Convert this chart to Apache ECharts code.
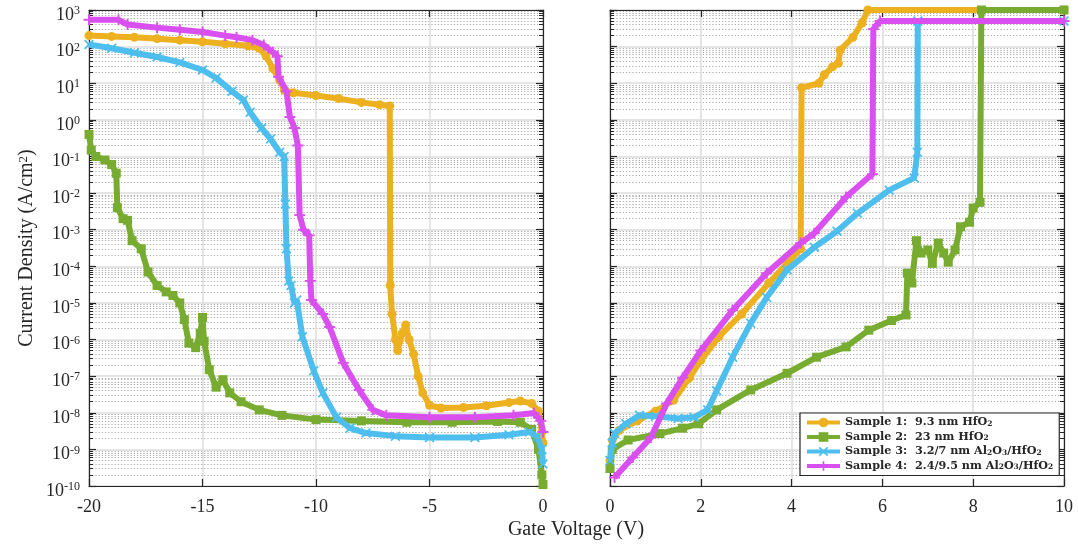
<!DOCTYPE html>
<html>
<head>
<meta charset="utf-8">
<script src="https://cdn.jsdelivr.net/npm/echarts@6/dist/echarts.min.js"></script>
<style>
  html, body { margin: 0; padding: 0; background: #ffffff; }
  #chart { width: 1078px; height: 550px; }
</style>
</head>
<body>
<div id="chart"></div>
<script>
// Gate leakage J–V sweeps for four gate stacks: negative bias (left) and positive bias (right).
// Each point: [gate voltage (V), current density (A/cm^2)].

const sampleNames = [
  'Sample 1: 9.3 nm HfO2',
  'Sample 2: 23 nm HfO2',
  'Sample 3: 3.2/7 nm Al2O3/HfO2',
  'Sample 4: 2.4/9.5 nm Al2O3/HfO2'
];
const legendLabels = [
  'Sample 1:  9.3 nm HfO{sub|2}',
  'Sample 2:  23 nm HfO{sub|2}',
  'Sample 3:  3.2/7 nm Al{sub|2}O{sub|3}/HfO{sub|2}',
  'Sample 4:  2.4/9.5 nm Al{sub|2}O{sub|3}/HfO{sub|2}'
];
const sampleColors = ['#EDB120', '#77AC30', '#4DBEEE', '#D94FF0'];

const xTicksNeg = { min: -20, max: 0, step: 5 };
const xTicksPos = { min: 0, max: 10, step: 2 };
const yRange = { min: 1e-10, max: 1e3 };

// Sample 1
const s1Neg = [
  [-20, 200], [-19, 190], [-18, 180], [-17, 165], [-16, 150], [-15, 135], [-14, 120],
  [-13, 105], [-12.5, 90], [-12.2, 55], [-11.9, 25], [-11.6, 12], [-11.4, 6.5],
  [-11, 5.5], [-10, 4.6], [-9, 3.8], [-8, 3.0], [-7.2, 2.6], [-6.75, 2.4],
  [-6.73, 3e-5], [-6.65, 5e-6], [-6.5, 1e-6], [-6.4, 5e-7], [-6.2, 1.5e-6],
  [-6.05, 2.5e-6], [-5.9, 1e-6], [-5.7, 4e-7], [-5.5, 1e-7], [-5.3, 3.5e-8],
  [-5.0, 1.6e-8], [-4.5, 1.35e-8], [-3.5, 1.4e-8], [-2.5, 1.55e-8], [-1.5, 1.9e-8],
  [-1.0, 2.1e-8], [-0.5, 1.8e-8], [-0.2, 1.1e-8], [-0.05, 3e-9], [0, 1.5e-9]
];
const s1Pos = [
  [0, 5e-10], [0.05, 1.8e-9], [0.2, 3.3e-9], [0.6, 6e-9], [1.0, 1.1e-8], [1.4, 2.2e-8],
  [1.75, 9e-8], [2.0, 2.7e-7], [2.4, 1.2e-6], [2.9, 5e-6], [3.5, 3.5e-5], [3.9, 1.2e-4],
  [4.2, 3e-4], [4.22, 7.5], [4.6, 10], [4.72, 17], [4.9, 28], [5.03, 35], [5.07, 80],
  [5.35, 180], [5.55, 440], [5.68, 1000], [10, 1000]
];

// Sample 2
const s2Neg = [
  [-20, 0.4], [-19.9, 0.15], [-19.7, 0.1], [-19.3, 0.08], [-19.0, 0.06], [-18.8, 0.035],
  [-18.75, 4e-3], [-18.5, 2e-3], [-18.3, 1.8e-3], [-18.1, 5e-4], [-17.7, 3e-4],
  [-17.4, 7e-5], [-17.0, 3e-5], [-16.6, 2e-5], [-16.3, 1.6e-5], [-16.0, 1e-5],
  [-15.8, 3.5e-6], [-15.6, 8e-7], [-15.3, 6e-7], [-15.1, 1.5e-6], [-15.0, 4e-6],
  [-14.93, 9e-7], [-14.7, 1.5e-7], [-14.4, 5e-8], [-14.1, 8e-8], [-13.8, 3.5e-8],
  [-13.3, 2e-8], [-12.5, 1.2e-8], [-11.5, 8.5e-9], [-10, 6.5e-9], [-8, 6e-9],
  [-6, 5.5e-9], [-4, 5.5e-9], [-2, 5.8e-9], [-1, 5.5e-9], [-0.5, 3.5e-9],
  [-0.2, 1e-9], [-0.05, 2e-10], [0, 1.1e-10]
];
const s2Pos = [
  [0, 3e-10], [0.05, 1e-9], [0.4, 1.8e-9], [1.1, 2.7e-9], [1.6, 3.8e-9], [1.95, 5e-9],
  [2.35, 1.2e-8], [3.1, 4.2e-8], [3.9, 1.2e-7], [4.55, 3.3e-7], [5.2, 6.3e-7],
  [5.7, 1.8e-6], [6.2, 3.3e-6], [6.52, 4.7e-6], [6.55, 6.5e-5], [6.65, 3.5e-5],
  [6.75, 5e-4], [6.85, 2.3e-4], [7.0, 2.8e-4], [7.1, 1.2e-4], [7.23, 4.3e-4],
  [7.35, 2.3e-4], [7.45, 1.3e-4], [7.6, 2.8e-4], [7.72, 1.2e-3], [7.92, 1.6e-3],
  [8.0, 3.9e-3], [8.15, 5.6e-3], [8.18, 1000], [10, 1000]
];

// Sample 3
const s3Neg = [
  [-20, 115], [-19, 90], [-18, 68], [-17, 52], [-16, 37], [-15, 23], [-14.4, 14],
  [-13.7, 6], [-13.2, 3.5], [-12.9, 1.6], [-12.4, 0.6], [-12, 0.3], [-11.6, 0.13],
  [-11.4, 0.1], [-11.35, 5e-3], [-11.3, 3e-4], [-11.2, 4e-5], [-11.1, 3e-5],
  [-10.95, 1e-5], [-10.85, 1.2e-5], [-10.6, 1.2e-6], [-10.1, 1.4e-7], [-9.7, 3.5e-8],
  [-9.1, 7.5e-9], [-8.5, 3.8e-9], [-7.8, 2.8e-9], [-6.5, 2.3e-9], [-5, 2.1e-9],
  [-3, 2.1e-9], [-1.5, 2.5e-9], [-0.6, 3e-9], [-0.25, 2.2e-9], [-0.05, 1e-9], [0, 4e-10]
];
const s3Pos = [
  [0, 5e-10], [0.05, 1.5e-9], [0.1, 2.7e-9], [0.35, 5e-9], [0.65, 8.5e-9], [1.0, 8e-9],
  [1.5, 7e-9], [1.85, 7.5e-9], [2.15, 1.2e-8], [2.35, 4e-8], [2.7, 3.3e-7], [3.1, 2.8e-6],
  [3.45, 1.4e-5], [3.9, 8e-5], [4.5, 3.3e-4], [5.0, 9e-4], [5.45, 2.8e-3], [6.15, 1.2e-2],
  [6.7, 2.6e-2], [6.77, 0.13], [6.78, 500], [10, 500]
];

// Sample 4
const s4Neg = [
  [-20, 540], [-18.7, 540], [-18.3, 400], [-17, 330], [-16, 290], [-15, 250], [-14, 200],
  [-13.5, 180], [-12.8, 150], [-12.3, 110], [-11.9, 70], [-11.7, 55], [-11.65, 15],
  [-11.3, 6], [-11.15, 1.2], [-10.95, 0.6], [-10.8, 0.2], [-10.72, 2.5e-3],
  [-10.55, 1e-3], [-10.3, 7e-4], [-10.25, 4e-5], [-10.2, 1.2e-5], [-9.7, 5e-6],
  [-9.4, 2.2e-6], [-8.8, 2.3e-7], [-8.1, 4.2e-8], [-7.5, 1.2e-8], [-6.9, 8.5e-9],
  [-5, 7.6e-9], [-3, 7.6e-9], [-1.3, 8.5e-9], [-0.4, 9.8e-9], [-0.1, 6e-9], [0, 3e-9]
];
const s4Pos = [
  [0.1, 1.7e-10], [0.5, 6e-10], [0.9, 2.1e-9], [1.25, 1.8e-8], [1.6, 9e-8], [2.0, 5e-7],
  [2.7, 6.3e-6], [3.45, 6.5e-5], [4.2, 4.3e-4], [4.5, 8e-4], [5.2, 7.8e-3],
  [5.78, 3.3e-2], [5.8, 300], [5.95, 500], [10, 500]
];

const negData = [s1Neg, s2Neg, s3Neg, s4Neg];
const posData = [s1Pos, s2Pos, s3Pos, s4Pos];

// Marker shapes: circle, square, cross (x), plus (+)
const markerShapes = [
  'circle',
  'rect',
  'path://M1,0L4,3L7,0L8,1L5,4L8,7L7,8L4,5L1,8L0,7L3,4L0,1Z',
  'path://M3.3,0H4.7V3.3H8V4.7H4.7V8H3.3V4.7H0V3.3H3.3Z'
];
const markerSizes = [9, 9, 10, 11];

const INK = '#262626';
const SERIF = 'Liberation Serif';

const chart = echarts.init(document.getElementById('chart'), null, { renderer: 'canvas' });

function xAxisDef(gridIndex, range, position, showLabels, showSplit) {
  return {
    type: 'value', gridIndex, position, min: range.min, max: range.max, interval: range.step,
    axisLine: { show: true, onZero: false, lineStyle: { color: INK, width: 1.2 } },
    axisTick: { show: true, inside: true, length: 7, lineStyle: { color: INK, width: 1.2 } },
    axisLabel: {
      show: showLabels, margin: 12, color: INK, fontFamily: SERIF, fontSize: 18
    },
    splitLine: { show: showSplit, lineStyle: { color: '#dcdcdc', width: 1.5 } }
  };
}

function yAxisDef(gridIndex, position, showLabels, showSplit, withName) {
  const ax = {
    type: 'log', logBase: 10, gridIndex, position,
    min: yRange.min, max: yRange.max, interval: 1,
    axisLine: { show: true, onZero: false, lineStyle: { color: INK, width: 1.2 } },
    axisTick: { show: true, inside: true, length: 7, lineStyle: { color: INK, width: 1.2 } },
    minorTick: { show: true, splitNumber: 9, length: 4, lineStyle: { color: INK, width: 1 } },
    axisLabel: {
      show: showLabels, margin: 9, padding: [10, 0, 0, 0],
      formatter: v => '{b|10}{s|' + Math.round(Math.log10(v)) + '}',
      rich: {
        b: { fontFamily: SERIF, fontSize: 18, color: INK, lineHeight: 20 },
        s: { fontFamily: SERIF, fontSize: 12, color: INK, verticalAlign: 'top', lineHeight: 12 }
      }
    },
    splitLine: { show: showSplit, lineStyle: { color: '#dcdcdc', width: 1.5 } },
    minorSplitLine: { show: showSplit, lineStyle: { color: '#aaaaaa', width: 1, type: [1.2, 2] } }
  };
  if (withName) {
    Object.assign(ax, {
      name: 'Current Density (A/cm{s|2})',
      nameLocation: 'middle', nameRotate: 90, nameGap: 52,
      nameTextStyle: {
        fontFamily: SERIF, fontSize: 20, color: INK,
        rich: { s: { fontFamily: SERIF, fontSize: 13, color: INK, verticalAlign: 'top', lineHeight: 13 } }
      }
    });
  }
  return ax;
}

const series = [];
sampleNames.forEach((name, i) => {
  [[negData[i], 0], [posData[i], 2]].forEach(([data, axisIdx]) => {
    series.push({
      name, type: 'line', data,
      xAxisIndex: axisIdx, yAxisIndex: axisIdx,
      symbol: markerShapes[i], symbolSize: markerSizes[i], showSymbol: true,
      clip: false, z: 2 + i,
      lineStyle: { color: sampleColors[i], width: 6 },
      itemStyle: { color: sampleColors[i] },
      emphasis: { disabled: true }
    });
  });
});

const option = {
  animation: false,
  backgroundColor: '#ffffff',
  grid: [
    { left: 89, top: 10, width: 454, height: 476 },
    { left: 610, top: 10, width: 454, height: 476 }
  ],
  xAxis: [
    xAxisDef(0, xTicksNeg, 'bottom', true, true),
    xAxisDef(0, xTicksNeg, 'top', false, false),
    xAxisDef(1, xTicksPos, 'bottom', true, true),
    xAxisDef(1, xTicksPos, 'top', false, false)
  ],
  yAxis: [
    yAxisDef(0, 'left', true, true, true),
    yAxisDef(0, 'right', false, false, false),
    yAxisDef(1, 'left', false, true, false),
    yAxisDef(1, 'right', false, false, false)
  ],
  legend: {
    data: sampleNames,
    orient: 'vertical', left: 800, top: 413,
    backgroundColor: '#ffffff', borderColor: INK, borderWidth: 1.2,
    padding: [4, 6, 4, 5], itemGap: 3.5, itemWidth: 33, itemHeight: 12,
    selectedMode: false,
    lineStyle: { width: 4 },
    formatter: name => legendLabels[sampleNames.indexOf(name)],
    textStyle: {
      fontFamily: 'DejaVu Serif', fontWeight: 'bold', fontSize: 11.2, color: INK,
      rich: {
        sub: { fontFamily: 'DejaVu Serif', fontWeight: 'bold', fontSize: 7.5, color: INK, verticalAlign: 'bottom', lineHeight: 10 }
      }
    }
  },
  graphic: [{
    type: 'text', x: 576, y: 530,
    style: {
      text: 'Gate Voltage (V)', fill: INK, font: '20px "Liberation Serif"',
      textAlign: 'center', textVerticalAlign: 'middle'
    }
  }],
  series
};

chart.setOption(option);
</script>
</body>
</html>
